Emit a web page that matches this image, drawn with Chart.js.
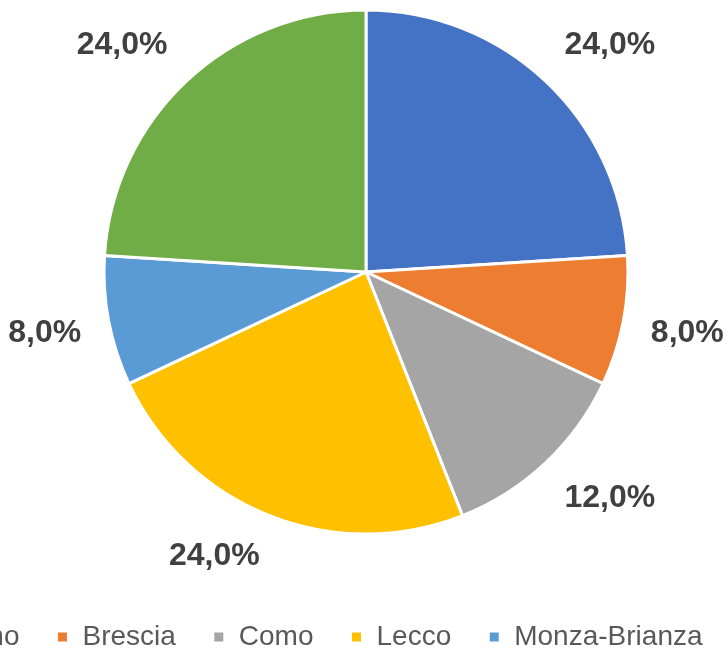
<!DOCTYPE html>
<html>
<head>
<meta charset="utf-8">
<script src="https://cdn.jsdelivr.net/npm/chart.js@4/dist/chart.umd.min.js"></script>
<style>
  html, body { margin: 0; padding: 0; background: #fff; overflow: hidden; }
  #wrap { position: absolute; left: -234px; top: -42px; width: 1200px; height: 703px; }
</style>
</head>
<body>
<div id="wrap"><canvas id="pieChart" width="1200" height="703"></canvas></div>
<script>
const province = ['Bergamo', 'Brescia', 'Como', 'Lecco', 'Monza-Brianza', 'Varese'];
const percentuali = [24, 8, 12, 24, 8, 24];
const colori = ['#4472C4', '#ED7D31', '#A5A5A5', '#FFC000', '#5B9BD5', '#70AD47'];

// etichette percentuali fuori dalle fette (stile Excel "esterno alla fine")
const outsideLabels = {
    id: 'outsideLabels',
    afterDatasetsDraw(chart) {
        const ctx = chart.ctx;
        const meta = chart.getDatasetMeta(0);
        ctx.save();
        ctx.font = 'bold 32px "Liberation Sans", Arial, sans-serif';
        ctx.fillStyle = '#404040';
        ctx.textAlign = 'center';
        ctx.textBaseline = 'middle';
        meta.data.forEach((arc, i) => {
            const p = arc.getProps(['x', 'y', 'startAngle', 'endAngle', 'outerRadius'], true);
            const mid = (p.startAngle + p.endAngle) / 2;
            const txt = percentuali[i].toFixed(1).replace('.', ',') + '%';
            const w = ctx.measureText(txt).width;
            const h = 30;
            const dx = Math.cos(mid), dy = Math.sin(mid);
            const r = p.outerRadius + 28;
            // punto di ancoraggio, poi il box si sposta verso l'esterno
            const sx = Math.sign(dx) * Math.min(1, 2.5 * Math.abs(dx) / Math.max(Math.abs(dy), 1e-6));
            const sy = Math.sign(dy) * Math.min(1, 2.5 * Math.abs(dy) / Math.max(Math.abs(dx), 1e-6));
            const x = p.x + dx * r + sx * w / 2;
            const y = p.y + dy * r + sy * h / 2;
            ctx.fillText(txt, x, y);
        });
        ctx.restore();
    }
};

const ctx = document.getElementById('pieChart').getContext('2d');
new Chart(ctx, {
    type: 'pie',
    data: {
        labels: province,
        datasets: [{
            data: percentuali,
            backgroundColor: colori,
            borderColor: '#ffffff',
            borderWidth: 3,
            radius: 262
        }]
    },
    options: {
        responsive: false,
        animation: false,
        plugins: {
            legend: {
                position: 'bottom',
                labels: {
                    boxWidth: 12,
                    boxHeight: 12,
                    padding: 37,
                    color: '#595959',
                    font: { size: 28, family: '"Liberation Sans", Arial, sans-serif' }
                }
            },
            tooltip: { enabled: false }
        }
    },
    plugins: [outsideLabels]
});
</script>
</body>
</html>
